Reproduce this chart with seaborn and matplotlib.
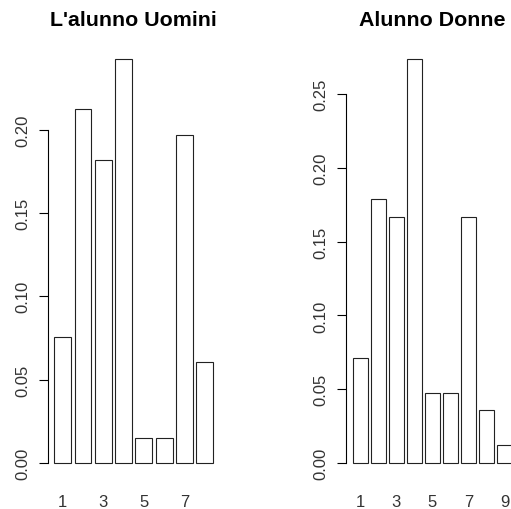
import matplotlib
matplotlib.use("Agg")
import matplotlib.pyplot as plt
import seaborn as sns
import pandas as pd

sns.set_style("white")
plt.rcParams['font.family'] = ['Liberation Sans', 'DejaVu Sans']

# Data (relative frequencies)
uomini_cat = ["1", "2", "3", "4", "5", "6", "7", "8"]
uomini_val = [5/66, 14/66, 12/66, 16/66, 1/66, 1/66, 13/66, 4/66]
donne_cat = ["1", "2", "3", "4", "5", "6", "7", "8", "9"]
donne_val = [6/84, 15/84, 14/84, 23/84, 4/84, 4/84, 14/84, 3/84, 1/84]
uomini_yticks = [0.00, 0.05, 0.10, 0.15, 0.20]
donne_yticks = [0.00, 0.05, 0.10, 0.15, 0.20, 0.25]
titles = ["L'alunno Uomini", "Alunno Donne"]

W, H = 511, 510
fig = plt.figure(figsize=(W / 100, H / 100), dpi=100)

def px_axes(x0, x1, y0, y1):
    return fig.add_axes([x0 / W, 1 - y1 / H, (x1 - x0) / W, (y1 - y0) / H])

ax1 = px_axes(47.9, 219.7, 43.7, 480.2)
ax2 = px_axes(346.3, 518.7, 43.7, 480.2)

fs_tick = 12.0
fs_title = 15.4

for ax, cats, vals, yt, title in [
    (ax1, uomini_cat, uomini_val, uomini_yticks, titles[0]),
    (ax2, donne_cat, donne_val, donne_yticks, titles[1]),
]:
    df = pd.DataFrame({"cat": cats, "val": vals})
    sns.barplot(data=df, x="cat", y="val", color="white", saturation=1,
                edgecolor="#222222", linewidth=0.8, width=1 / 1.2, ax=ax)
    n = len(cats)
    rng = 1.2 * n - 0.2
    lo = 0.2 - 0.04 * rng
    hi = 1.2 * n + 0.04 * rng
    ax.set_xlim(lo / 1.2 - 0.5833, hi / 1.2 - 0.5833)
    ymax = max(vals)
    ax.set_ylim(-0.04 * ymax, 1.04 * ymax)
    for s in ["top", "right", "bottom"]:
        ax.spines[s].set_visible(False)
    ax.spines["left"].set_bounds(yt[0], yt[-1])
    ax.spines["left"].set_color("black")
    ax.spines["left"].set_linewidth(0.8)
    ax.set_yticks(yt)
    ax.set_yticklabels([f"{v:.2f}" for v in yt], rotation=90, va="center",
                       fontsize=fs_tick, color="#333333")
    ax.tick_params(axis="y", direction="out", length=6.3, width=0.8,
                   pad=6.5, left=True, color="black")
    pos = list(range(0, n, 2))
    ax.set_xticks(pos)
    ax.set_xticklabels([cats[i] for i in pos], fontsize=fs_tick, color="#333333")
    ax.tick_params(axis="x", length=0, pad=10.5)
    ax.set_xlabel("")
    ax.set_ylabel("")
    ax.set_title(title, fontsize=fs_title, fontweight="bold", pad=13, color="black")
    ax.patch.set_alpha(0)

fig.savefig("out.png", dpi=100, facecolor="white")
